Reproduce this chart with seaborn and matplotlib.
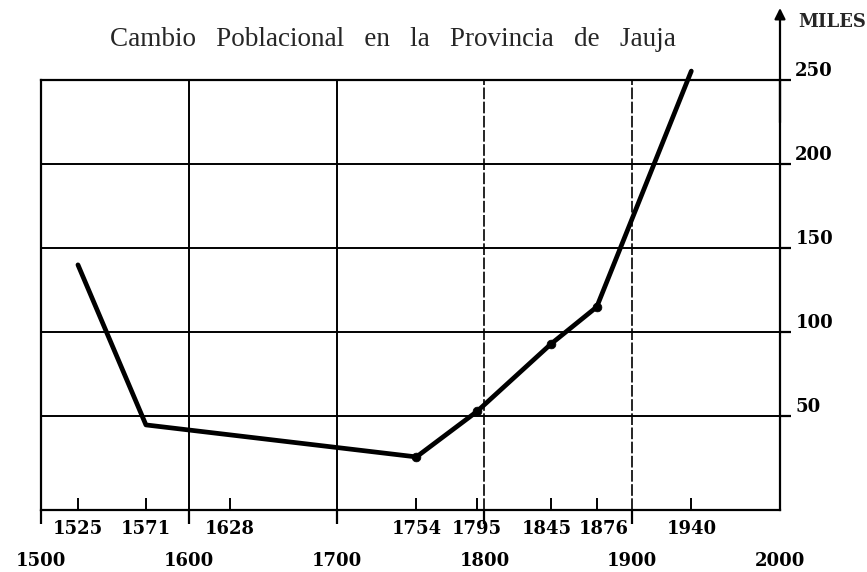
import matplotlib
matplotlib.use("Agg")
import matplotlib.pyplot as plt
from matplotlib.transforms import ScaledTranslation
import seaborn as sns
import pandas as pd

# ---- data ----
years = [1525, 1571, 1754, 1795, 1845, 1876, 1940]
population = [140, 45, 26, 53, 93, 115, 255]   # miles de habitantes
marked = [False, False, True, True, True, True, False]

century_ticks = [1500, 1600, 1700, 1800, 1900, 2000]
year_ticks = [1525, 1571, 1628, 1754, 1795, 1845, 1876, 1940]
y_ticks = [50, 100, 150, 200, 250]

title = "Cambio   Poblacional   en   la   Provincia   de   Jauja"
unit_label = "MILES"

df = pd.DataFrame({"year": years, "pop": population, "marked": marked})

sns.set_style("white")
plt.rcParams["font.family"] = ["DejaVu Serif", "DejaVu Sans"]

W, H = 867, 572
fig = plt.figure(figsize=(W / 100, H / 100), dpi=100)
x0, x1 = 41, 780
ytop, ybot = 79.5, 510
ax = fig.add_axes([x0 / W, (H - ybot) / H, (x1 - x0) / W, (ybot - ytop) / H])

sns.lineplot(data=df, x="year", y="pop", ax=ax, color="black", lw=3.4,
             solid_joinstyle="round", solid_capstyle="round", zorder=5,
             clip_on=False)
sns.scatterplot(data=df[df["marked"]], x="year", y="pop", ax=ax, color="black",
                s=40, edgecolor="black", zorder=6, legend=False)

ax.set_xlim(1500, 2000)
ax.set_ylim(-5.5, 250)
ax.set_xlabel("")
ax.set_ylabel("")

# spines
for side in ["left", "top", "bottom", "right"]:
    ax.spines[side].set_visible(True)
    ax.spines[side].set_color("black")
    ax.spines[side].set_linewidth(1.6)

# grid
ax.grid(True, axis="both", which="major", color="black", lw=1.4)
ax.set_axisbelow(True)

# x ticks
ax.set_xticks(century_ticks)
ax.set_xticklabels([str(c) for c in century_ticks], fontsize=13, fontweight="bold")
ax.set_xticks(year_ticks, minor=True)
ax.set_xticklabels([str(y) for y in year_ticks], minor=True, fontsize=13, fontweight="bold")
ax.tick_params(axis="x", which="major", direction="out", length=10, width=1.6,
               pad=20, colors="black", bottom=True)
ax.tick_params(axis="x", which="minor", direction="in", length=9, width=1.4,
               pad=7, colors="black", bottom=True)
mt = ax.xaxis.get_major_ticks()
mt[-1].tick1line.set_visible(False)
for i in (3, 4):
    mt[i].gridline.set_linestyle((0, (7, 1.5)))
    mt[i].gridline.set_linewidth(1.2)

# small horizontal nudges so neighbouring year labels do not collide
nudges = {1845: -4, 1876: 7}
for lbl, yr in zip(ax.xaxis.get_ticklabels(minor=True), year_ticks):
    if yr in nudges:
        lbl.set_transform(lbl.get_transform()
                          + ScaledTranslation(nudges[yr] / 100, 0, fig.dpi_scale_trans))

# y ticks on right
ax.yaxis.tick_right()
ax.set_yticks(y_ticks)
ax.set_yticklabels([str(v) for v in y_ticks], fontsize=13, fontweight="bold")
ax.tick_params(axis="y", which="major", direction="out", length=8, width=1.6,
               pad=3, colors="black", right=True, left=False)
for lbl in ax.get_yticklabels():
    lbl.set_verticalalignment("bottom")

# right axis arrow
ax.annotate("", xy=(1, (ybot - 8) / (ybot - ytop)), xytext=(1, 0.9),
            xycoords="axes fraction",
            arrowprops=dict(arrowstyle="-|>", lw=1.6, color="black",
                            mutation_scale=16, shrinkA=0, shrinkB=0),
            annotation_clip=False)

fig.text(393 / W, 1 - 39 / H, title, ha="center", va="center",
         fontsize=19.5, family="Liberation Serif")
fig.text(798 / W, 1 - 22 / H, unit_label, ha="left", va="center",
         fontsize=13, fontweight="bold")

fig.savefig("out.png", dpi=100)
